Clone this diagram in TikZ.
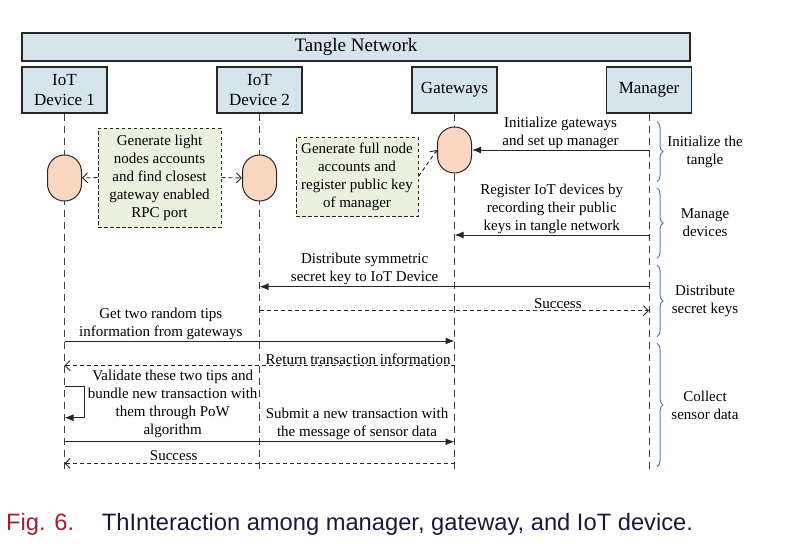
\documentclass[tikz,border=0pt]{standalone}
\usepackage{fontspec}
\setmainfont{Liberation Serif}
\newfontfamily\capfont{Liberation Sans}
\usetikzlibrary{arrows.meta,positioning,decorations.pathreplacing}

\definecolor{hdrblue}{RGB}{214,228,235}
\definecolor{actpink}{RGB}{251,214,193}
\definecolor{notegreen}{RGB}{235,241,222}
\definecolor{bracecol}{RGB}{85,125,195}
\definecolor{figred}{RGB}{165,30,45}
\definecolor{capnavy}{RGB}{30,22,62}

\begin{document}
\begin{tikzpicture}[x=1pt,y=-1pt,
    hdr/.style={draw=black!85,fill=hdrblue,line width=1.2pt,inner sep=0pt,align=center,
      minimum width=85pt,minimum height=46pt,font=\fontsize{17}{20}\selectfont},
    life/.style={draw=black!75,line width=1pt,dash pattern=on 7pt off 5pt},
    act/.style={draw=black!85,fill=actpink,line width=1pt,rounded corners=16.9pt,
      minimum width=34pt,minimum height=46pt,inner sep=0pt},
    note/.style={draw=black!85,fill=notegreen,line width=1pt,dash pattern=on 3.5pt off 2.5pt,
      align=center,inner sep=0pt,font=\fontsize{15}{18}\selectfont},
    msg/.style={draw=black!85,line width=1pt,-{Latex[length=9pt,width=7pt]}},
    ret/.style={draw=black!85,line width=0.9pt,dash pattern=on 4pt off 3pt,
      -{Straight Barb[length=5pt,width=10pt]}},
    lbl/.style={align=center,inner sep=0pt,font=\fontsize{15}{18}\selectfont},
    grp/.style={draw=bracecol,line width=1pt,decorate,decoration={brace,amplitude=6pt,aspect=0.5}}]

  \useasboundingbox (0,0) rectangle (796,554);

  % participants
  \node[hdr,minimum width=668pt,minimum height=28pt,font=\fontsize{19}{22}\selectfont] (net) at (356,47) {Tangle Network};
  \node[hdr] (dev1) at (64.5,90) {IoT\\Device 1};
  \node[hdr] (dev2) at (259.5,90) {IoT\\Device 2};
  \node[hdr] (gw) at (454.5,90) {Gateways};
  \node[hdr] (mgr) at (649,90) {Manager};

  % lifelines
  \coordinate (bottom) at (0,473);
  \draw[life] (dev1.south) -- (dev1 |- bottom);
  \draw[life] (dev2.south) -- (dev2 |- bottom);
  \draw[life] (gw.south) -- (gw |- bottom);
  \draw[life] (mgr.south) -- (mgr |- bottom);

  % activations and notes
  \node[act] (act1) at (64.5,178) {};
  \node[act] (act2) at (259.5,178) {};
  \node[act] (act3) at (454.5,150) {};
  \node[note,minimum width=123pt,minimum height=99pt] (note1) at (159.5,177.5)
    {Generate light\\nodes accounts\\and find closest\\gateway enabled\\RPC port};
  \node[note,minimum width=122pt,minimum height=79pt] (note2) at (357,176.5)
    {Generate full node\\accounts and\\register public key\\of manager};
  \draw[ret] (note1.west) -- (act1.east);
  \draw[ret] (note1.east) -- (act2.west);
  \draw[ret] (note2.east) -- (act3.west);

  % message rows
  \coordinate (s2) at (0,235);
  \coordinate (s3) at (0,286.7);
  \coordinate (s4) at (0,310.7);
  \coordinate (s5) at (0,341);
  \coordinate (s6) at (0,365.7);
  \coordinate (s7a) at (0,386.7);
  \coordinate (s7b) at (0,417.7);
  \coordinate (s8) at (0,441.7);
  \coordinate (s9) at (0,463.3);

  \draw[msg] (mgr |- act3) -- (act3.east)
    node[lbl,midway,above=1pt] {Initialize gateways\\and set up manager};
  \draw[msg] (mgr |- s2) -- (gw |- s2)
    node[lbl,midway,above=1pt] {Register IoT devices by\\recording their public\\keys in tangle network};
  \draw[msg] (mgr |- s3) -- (dev2 |- s3)
    node[lbl,pos=0.73,above=1pt] {Distribute symmetric\\secret key to IoT Device};
  \draw[ret] (dev2 |- s4) -- (mgr |- s4)
    node[lbl,pos=0.766,above=2pt] {Success};
  \draw[msg] (dev1 |- s5) -- (gw |- s5)
    node[lbl,pos=0.247,above=1pt] {Get two random tips\\information from gateways};
  \draw[ret] (gw |- s6) -- (dev1 |- s6)
    node[lbl,pos=0.247,above=1pt] {Return transaction information};
  \draw[msg] (dev1 |- s7a) -- ++(20,0) |- (dev1 |- s7b);
  \node[lbl] (valid) at (172.7,404.3)
    {Validate these two tips and\\bundle new transaction with\\them through PoW\\algorithm};
  \draw[msg] (dev1 |- s8) -- (gw |- s8)
    node[lbl,pos=0.75,above=1pt] {Submit a new transaction with\\the message of sensor data};
  \draw[ret] (gw |- s9) -- (dev1 |- s9)
    node[lbl,pos=0.72,above=2pt] {Success};

  % phases
  \coordinate (b1t) at (657,121.7);
  \coordinate (b1b) at (657,181.7);
  \coordinate (b2t) at (657,188);
  \coordinate (b2b) at (657,258.3);
  \coordinate (b3t) at (657,265);
  \coordinate (b3b) at (657,336.7);
  \coordinate (b4t) at (657,343.3);
  \coordinate (b4b) at (657,466.7);
  \draw[grp] (b1t) -- (b1b) node[lbl,midway,xshift=48pt] {Initialize the\\tangle};
  \draw[grp] (b2t) -- (b2b) node[lbl,midway,xshift=48pt] {Manage\\devices};
  \draw[grp] (b3t) -- (b3b) node[lbl,midway,xshift=48pt] {Distribute\\secret keys};
  \draw[grp] (b4t) -- (b4b) node[lbl,midway,xshift=48pt] {Collect\\sensor data};

  % caption
  \node[anchor=base west,inner sep=0pt,text=figred,font=\capfont\fontsize{23.7}{28}\selectfont] (figno) at (6,530) {Fig. 6.};
  \node[anchor=base west,inner sep=0pt,text=capnavy,font=\capfont\fontsize{23.7}{28}\selectfont] (captxt) at (101.7,530)
    {ThInteraction among manager, gateway, and IoT device.};
\end{tikzpicture}
\end{document}
